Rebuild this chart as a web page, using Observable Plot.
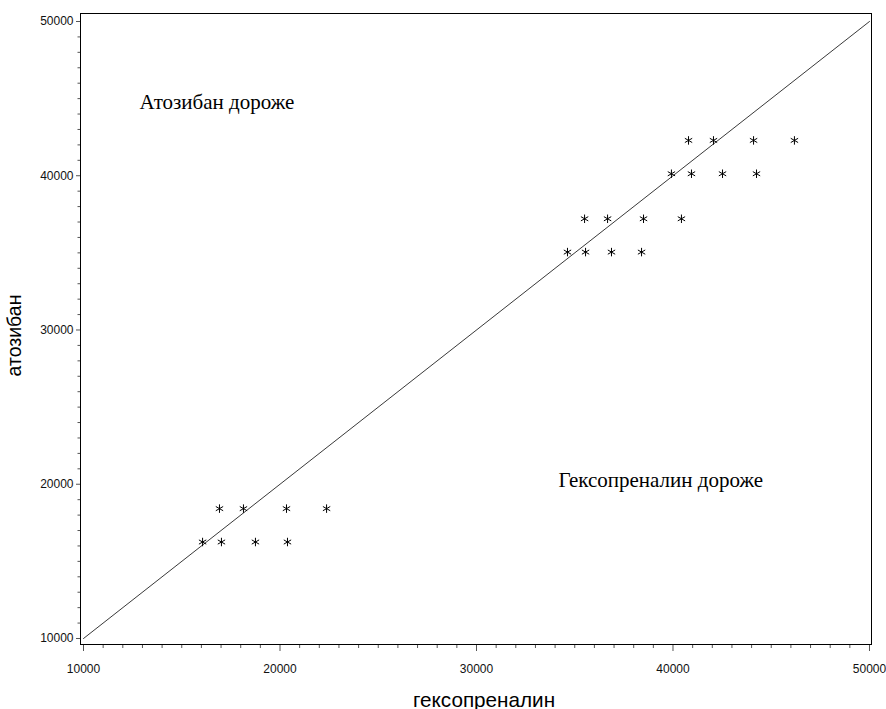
<!DOCTYPE html>
<html>
<head>
<meta charset="utf-8">
<script src="https://cdn.jsdelivr.net/npm/d3@7"></script>
<script src="https://cdn.jsdelivr.net/npm/@observablehq/plot@0.6"></script>
<style>
  html, body { margin: 0; padding: 0; background: #fff; }
  #chart svg { display: block; }
</style>
</head>
<body>
<div id="chart"></div>
<script>
// Data (гексопреналин, атозибан)
const hexoprenaline = [
  40790, 42060, 44100, 46180,
  39920, 40940, 42520, 44250,
  35500, 36670, 38500, 40430,
  34630, 35550, 36870, 38400,
  16920, 18140, 20330, 22370,
  16060, 17020, 18750, 20380
];
const atosiban = [
  42290, 42290, 42290, 42290,
  40130, 40130, 40130, 40130,
  37210, 37210, 37210, 37210,
  35050, 35050, 35050, 35050,
  18420, 18420, 18420, 18420,
  16255, 16255, 16255, 16255
];
const majorTicks = [10000, 20000, 30000, 40000, 50000];
const minorTicks = d3.range(10000, 50001, 1000).filter(v => v % 10000 !== 0);
const diagonal = [10000, 50000];
const annotations = [
  {x: 12850, y: 44300, text: "Атозибан дороже"},
  {x: 34170, y: 19800, text: "Гексопреналин дороже"}
];
const xLabel = "гексопреналин";
const yLabel = "атозибан";

const points = hexoprenaline.map((h, i) => ({h, a: atosiban[i]}));
const line = diagonal.map(v => ({h: v, a: v}));

const chart = Plot.plot({
  width: 886,
  height: 709,
  marginLeft: 80,
  marginRight: 15,
  marginTop: 13,
  marginBottom: 65,
  style: {fontFamily: "'Liberation Sans', Arial, sans-serif", fontSize: "12px", color: "#111", background: "#fff", overflow: "visible"},
  x: {domain: [9847, 50102]},
  y: {domain: [9611, 50518]},
  marks: [
    Plot.axisX({ticks: minorTicks, tickSize: 4, text: null, stroke: "#555", label: null}),
    Plot.axisX({ticks: majorTicks, tickSize: 7, tickPadding: 13, stroke: "#555", fontSize: 12, fill: "#111", tickFormat: d => String(d), label: null}),
    Plot.axisY({ticks: minorTicks, tickSize: 2.5, text: null, stroke: "#555", label: null}),
    Plot.axisY({ticks: majorTicks, tickSize: 4, tickPadding: 3, stroke: "#555", fontSize: 12, fill: "#111", tickFormat: d => String(d), label: null}),
    Plot.frame({stroke: "#000", strokeWidth: 1}),
    Plot.line(line, {x: "h", y: "a", stroke: "#222", strokeWidth: 0.9}),
    Plot.dot(points, {x: "h", y: "a", symbol: "asterisk", r: 4, stroke: "#000", strokeWidth: 1}),
    Plot.text(annotations, {x: "x", y: "y", text: "text", textAnchor: "start", lineAnchor: "bottom", fontFamily: "'Liberation Serif', 'Times New Roman', serif", fontSize: 21, fill: "#000"}),
    Plot.text([xLabel], {frameAnchor: "bottom", textAnchor: "middle", dx: 8, dy: 62, fontSize: 20.7, fill: "#000"}),
    Plot.text([yLabel], {frameAnchor: "left", textAnchor: "middle", lineAnchor: "middle", dx: -66, dy: 6.5, rotate: -90, fontSize: 19.5, fill: "#000"})
  ]
});
document.getElementById("chart").appendChild(chart);
</script>
</body>
</html>
